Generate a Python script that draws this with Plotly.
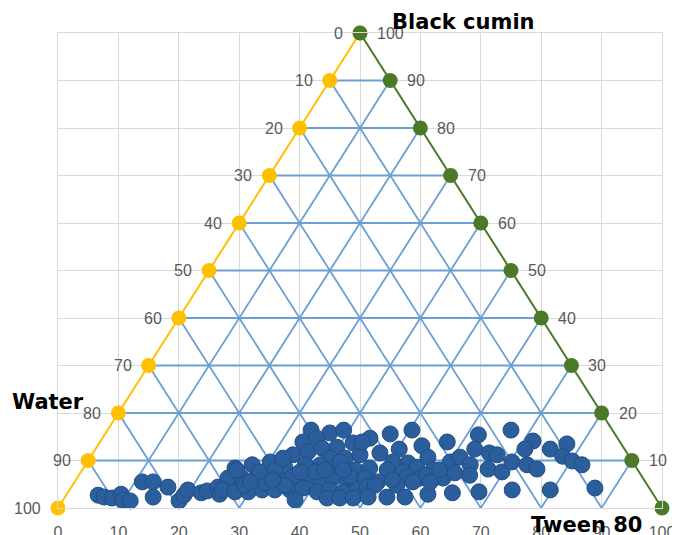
import plotly.graph_objects as go

# Composition data (percent); water = 100 - tween - black cumin
tween_80 = [5.3, 6.5, 7.9, 9.0, 9.9, 11.2, 11.2, 13.0, 14.6, 16.0, 19.3, 19.5, 19.6, 22.1, 22.9, 24.3, 25.3, 25.5,
            33.7, 37.1, 39.1, 33.6, 35.5, 39.8, 42.0, 33.3, 35.5, 37.4, 39.8, 42.3, 44.4,
            25.1, 27.6, 30.3, 33.4, 36.4, 38.9, 41.7, 45.2,
            25.0, 27.3, 29.7, 31.6, 33.8, 35.6, 38.2, 40.4, 42.4, 44.9, 47.3,
            25.3, 27.6, 29.8, 31.9, 34.0, 36.5, 38.5, 41.2, 43.1, 45.5, 47.4,
            38.4, 43.5, 45.6, 47.8,
            28.5, 31.6, 35.2, 36.3, 38.8, 41.9, 45.0, 31.9, 29.6, 29.1, 25.6, 32.6, 32.0, 40.2,
            44.3, 43.4, 47.2, 50.4, 57.5, 61.9, 66.8, 47.5, 50.3, 53.7, 62.8, 65.6, 67.1,
            50.6, 53.2, 55.9, 60.1, 61.2, 63.7, 67.1, 69.7,
            47.4, 50.5, 53.3, 55.1, 58.1, 60.6, 62.0, 64.7,
            47.7, 50.2, 53.1, 54.5, 56.8, 57.6, 49.0, 50.1, 53.7, 56.0,
            50.2, 53.3, 56.3, 59.8, 63.7, 68.0, 58.9, 52.4, 43.2, 59.2,
            71.6, 71.1, 75.3, 77.5, 70.3, 73.1, 75.2, 78.1, 80.2, 82.2, 73.3, 79.6, 86.8]
black_cumin = [2.7, 2.3, 2.1, 2.9, 1.7, 1.5, 5.5, 5.5, 2.3, 4.4, 1.5, 2.7, 3.8, 3.2, 3.6, 4.4, 2.9, 5.7,
               16.4, 15.8, 16.4, 13.9, 14.7, 12.8, 13.7, 11.2, 11.8, 12.6, 10.5, 10.5, 11.2,
               8.4, 9.1, 9.7, 8.4, 9.1, 9.1, 8.4, 8.0,
               6.3, 6.3, 6.5, 6.3, 5.9, 6.5, 6.3, 5.9, 6.3, 5.9, 5.5,
               3.8, 3.4, 3.4, 3.8, 3.8, 3.8, 4.2, 3.4, 3.8, 3.4, 4.2,
               1.7, 2.1, 2.1, 2.1,
               4.8, 5.3, 4.8, 7.6, 7.6, 9.7, 6.7, 8.0, 7.6, 5.5, 8.0, 5.9, 10.5, 8.0,
               14.7, 13.9, 15.6, 16.4, 13.9, 15.4, 16.4, 11.6, 12.4, 13.1, 12.4, 11.6, 11.2,
               9.7, 9.5, 10.7, 9.7, 10.7, 9.1, 8.2, 7.6,
               8.4, 8.0, 7.6, 8.6, 8.0, 6.3, 7.4, 6.9,
               6.3, 5.5, 5.5, 6.5, 6.3, 6.9, 4.4, 4.8, 4.8, 5.5,
               2.3, 2.3, 2.3, 2.9, 3.2, 3.4, 5.5, 5.9, 8.0, 8.0,
               14.1, 12.4, 12.4, 13.5, 9.7, 9.1, 8.2, 10.9, 9.9, 9.1, 3.8, 3.8, 4.2]
water = [100 - t - b for t, b in zip(tween_80, black_cumin)]

edge_ticks = [0, 10, 20, 30, 40, 50, 60, 70, 80, 90, 100]
axis_labels = ["Black cumin", "Water", "Tween 80"]

FONT = "DejaVu Sans"
TICK_FONT = "Liberation Sans"
LABEL_GRAY = "#595959"
YELLOW = "#FFC000"
GREEN = "#4A7A28"
GRID_BLUE = "#6A9FD6"
DOT_BLUE = "#2A5E9C"


def to_xy(tween, cumin):
    # ternary -> cartesian: x along Tween axis, y = black cumin height (0..100)
    return tween + cumin / 2.0, cumin


fig = go.Figure()

# inner triangular grid
gx, gy = [], []
for k in edge_ticks[1:-1]:
    for (t, b) in [(0, k), (100 - k, k)]:          # black cumin = k
        x, y = to_xy(t, b); gx.append(x); gy.append(y)
    gx.append(None); gy.append(None)
    for (t, b) in [(k, 0), (k, 100 - k)]:          # tween = k
        x, y = to_xy(t, b); gx.append(x); gy.append(y)
    gx.append(None); gy.append(None)
    for (t, b) in [(100 - k, 0), (0, 100 - k)]:    # water = k
        x, y = to_xy(t, b); gx.append(x); gy.append(y)
    gx.append(None); gy.append(None)
fig.add_trace(go.Scatter(x=gx, y=gy, mode="lines", line=dict(color=GRID_BLUE, width=1.8),
                         hoverinfo="skip", showlegend=False))

# water edge (left, yellow)
wx, wy = zip(*[to_xy(0, 100 - w) for w in edge_ticks])
fig.add_trace(go.Scatter(x=wx, y=wy, mode="lines+markers",
                         line=dict(color=YELLOW, width=2),
                         marker=dict(color=YELLOW, size=15), cliponaxis=False, showlegend=False))
# black cumin edge (right, green)
cx, cy = zip(*[to_xy(100 - b, b) for b in edge_ticks])
fig.add_trace(go.Scatter(x=cx, y=cy, mode="lines+markers",
                         line=dict(color=GREEN, width=2),
                         marker=dict(color=GREEN, size=15), cliponaxis=False, showlegend=False))

# data points
px, py = zip(*[to_xy(t, b) for t, b in zip(tween_80, black_cumin)])
fig.add_trace(go.Scatter(x=px, y=py, mode="markers",
                         marker=dict(color=DOT_BLUE, size=16, line=dict(color="#224E82", width=1)),
                         customdata=water, cliponaxis=False, showlegend=False))

annotations = []
for w, x, y in zip(edge_ticks, wx, wy):
    annotations.append(dict(x=x, y=y, text=str(w), showarrow=False, xanchor="right", yanchor="middle",
                            xshift=-15, font=dict(family=TICK_FONT, size=16, color=LABEL_GRAY)))
for b, x, y in zip(edge_ticks, cx, cy):
    annotations.append(dict(x=x, y=y, text=str(b), showarrow=False, xanchor="left", yanchor="middle",
                            xshift=15, font=dict(family=TICK_FONT, size=16, color=LABEL_GRAY)))

title_font = dict(family=FONT, size=21, color="#000000")
annotations.append(dict(x=55.0, y=100, text="<b>%s</b>" % axis_labels[0], showarrow=False,
                        xanchor="left", yanchor="middle", yshift=11, font=title_font))
annotations.append(dict(x=-0.08, y=22.3, xref="paper", yref="y", text="<b>%s</b>" % axis_labels[1],
                        showarrow=False, xanchor="left", yanchor="middle", font=title_font))
annotations.append(dict(x=78.0, y=0, text="<b>%s</b>" % axis_labels[2], showarrow=False,
                        xanchor="left", yanchor="middle", yshift=-17, font=title_font))

# page body has an 8px default margin, so the figure is sized/offset accordingly
fig.update_layout(
    width=672, height=527,
    margin=dict(l=50, r=18, t=25, b=27),
    paper_bgcolor="white", plot_bgcolor="white",
    annotations=annotations,
    xaxis=dict(range=[0, 100], tickvals=edge_ticks, showgrid=True, gridcolor="#D9D9D9", gridwidth=1.3,
               zeroline=False, showline=True, linecolor="#D9D9D9", linewidth=1.3, mirror=True,
               ticks="outside", ticklen=10, tickcolor="rgba(0,0,0,0)", automargin=False,
               tickfont=dict(family=TICK_FONT, size=16, color=LABEL_GRAY), fixedrange=True),
    yaxis=dict(range=[0, 100], tickvals=edge_ticks, showgrid=True, gridcolor="#D9D9D9", gridwidth=1.3,
               zeroline=False, showline=True, linecolor="#D9D9D9", linewidth=1.3, mirror=True,
               showticklabels=False, automargin=False, fixedrange=True),
)

fig.write_html("out.html")
